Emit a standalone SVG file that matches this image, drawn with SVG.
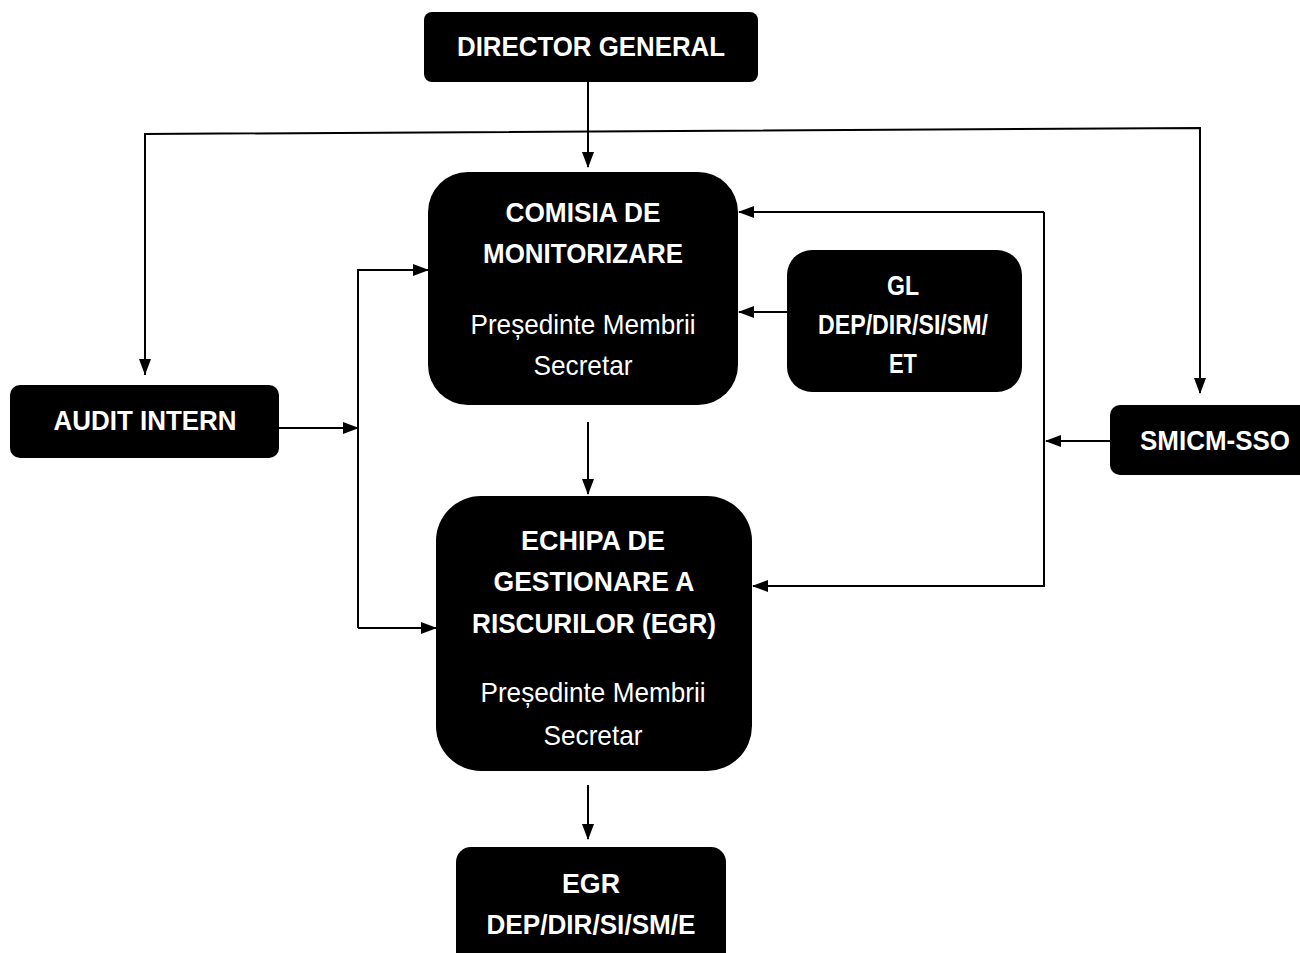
<svg xmlns="http://www.w3.org/2000/svg" width="1300" height="953" viewBox="0 0 1300 953">
<defs>
<marker id="ah" markerWidth="16" markerHeight="12" refX="15" refY="6" orient="auto" markerUnits="userSpaceOnUse">
<path d="M0,0 L16,6 L0,12 Z" fill="#000"/>
</marker>
<style>
.box{fill:#000}
.b{font-family:"Liberation Sans Narrow","Liberation Sans",Arial,sans-serif;font-weight:bold;font-size:28px;fill:#fff;text-anchor:middle}
.n{font-family:"Liberation Sans Narrow","Liberation Sans",Arial,sans-serif;font-size:28px;fill:#fff;text-anchor:middle}
.c{fill:none;stroke:#000;stroke-width:2}
</style>
</defs>
<rect width="1300" height="953" fill="#fff"/>
<g id="connectors">
<path class="c" d="M588,82 V167" marker-end="url(#ah)"/>
<path class="c" d="M145,375 V134 L1200,128 V393" marker-end="url(#ah)"/>
<path class="c" d="M145,134 V374" marker-end="url(#ah)"/>
<path class="c" d="M279,428 H358" marker-end="url(#ah)"/>
<path class="c" d="M358,628 V270 H428" marker-end="url(#ah)"/>
<path class="c" d="M358,628 H436" marker-end="url(#ah)"/>
<path class="c" d="M787,312 H739" marker-end="url(#ah)"/>
<path class="c" d="M1044,212 H739" marker-end="url(#ah)"/>
<path class="c" d="M1044,212 V586 H753" marker-end="url(#ah)"/>
<path class="c" d="M1110,441 H1046" marker-end="url(#ah)"/>
<path class="c" d="M588,422 V494" marker-end="url(#ah)"/>
<path class="c" d="M588,785 V839" marker-end="url(#ah)"/>
</g>
<g id="director-general">
<rect class="box" x="424" y="12" width="334" height="70" rx="8"/>
<text class="b" x="591" y="56" textLength="268" lengthAdjust="spacingAndGlyphs">DIRECTOR GENERAL</text>
</g>
<g id="comisia">
<rect class="box" x="428" y="172" width="310" height="233" rx="40"/>
<text class="b" x="583" y="222" textLength="155" lengthAdjust="spacingAndGlyphs">COMISIA DE</text>
<text class="b" x="583" y="263" textLength="200" lengthAdjust="spacingAndGlyphs">MONITORIZARE</text>
<text class="n" x="583" y="334" textLength="225" lengthAdjust="spacingAndGlyphs">Președinte Membrii</text>
<text class="n" x="583" y="375" textLength="99" lengthAdjust="spacingAndGlyphs">Secretar</text>
</g>
<g id="gl">
<rect class="box" x="787" y="250" width="235" height="142" rx="25"/>
<text class="b" x="903" y="295" textLength="32" lengthAdjust="spacingAndGlyphs">GL</text>
<text class="b" x="903" y="334" textLength="170" lengthAdjust="spacingAndGlyphs">DEP/DIR/SI/SM/</text>
<text class="b" x="903" y="373" textLength="28" lengthAdjust="spacingAndGlyphs">ET</text>
</g>
<g id="audit-intern">
<rect class="box" x="10" y="385" width="269" height="73" rx="10"/>
<text class="b" x="145" y="430" textLength="183" lengthAdjust="spacingAndGlyphs">AUDIT INTERN</text>
</g>
<g id="smicm-sso">
<rect class="box" x="1110" y="405" width="200" height="70" rx="10"/>
<text class="b" x="1215" y="450" textLength="150" lengthAdjust="spacingAndGlyphs">SMICM-SSO</text>
</g>
<g id="echipa">
<rect class="box" x="436" y="496" width="316" height="275" rx="45"/>
<text class="b" x="593" y="550" textLength="144" lengthAdjust="spacingAndGlyphs">ECHIPA DE</text>
<text class="b" x="594" y="591" textLength="201" lengthAdjust="spacingAndGlyphs">GESTIONARE A</text>
<text class="b" x="594" y="633" textLength="244" lengthAdjust="spacingAndGlyphs">RISCURILOR (EGR)</text>
<text class="n" x="593" y="702" textLength="225" lengthAdjust="spacingAndGlyphs">Președinte Membrii</text>
<text class="n" x="593" y="745" textLength="99" lengthAdjust="spacingAndGlyphs">Secretar</text>
</g>
<g id="egr">
<rect class="box" x="456" y="847" width="270" height="120" rx="15"/>
<text class="b" x="591" y="893" textLength="58" lengthAdjust="spacingAndGlyphs">EGR</text>
<text class="b" x="591" y="934" textLength="209" lengthAdjust="spacingAndGlyphs">DEP/DIR/SI/SM/E</text>
</g>
</svg>
